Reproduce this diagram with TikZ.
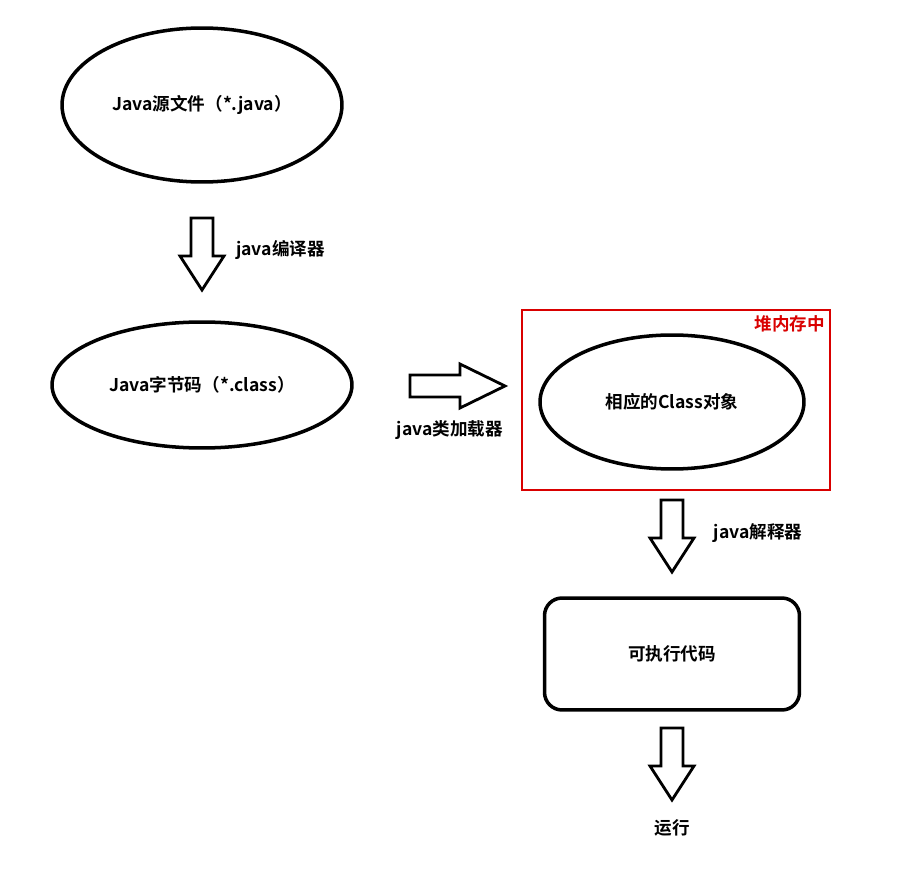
\documentclass[tikz,border=0pt]{standalone}
\usepackage{fontspec}
\setmainfont{Noto Sans CJK SC}[BoldFont={* Bold}]
\usetikzlibrary{shapes.geometric}

\tikzset{
  oval/.style={draw, ellipse, line width=2pt},
  bigarrow/.style={draw, line width=1.6pt, line join=miter},
  lbl/.style={font=\bfseries\fontsize{10}{12}\selectfont}
}
% flecha de bloque hacia abajo: (x, y superior)
\newcommand{\downblock}[2]{\draw[bigarrow] (#1-11,#2) -- (#1+11,#2) -- (#1+11,#2+38) -- (#1+22,#2+38) -- (#1,#2+72) -- (#1-22,#2+38) -- (#1-11,#2+38) -- cycle;}

\begin{document}
\begin{tikzpicture}[x=0.02cm, y=-0.02cm, every node/.append style={font=\bfseries\fontsize{10}{12}\selectfont}]
  \useasboundingbox (0,0) rectangle (924,885);
  % Nodos
  \node[oval, minimum width=5.6cm, minimum height=3.08cm] (src) at (202,105) {Java源文件（*.java）};
  \node[oval, minimum width=6cm, minimum height=2.52cm] (byte) at (202,385) {Java字节码（*.class）};
  \node[draw=red!85!black, line width=1.2pt, minimum width=6.16cm, minimum height=3.6cm] (heap) at (676,400) {};
  \node[lbl, text=red!85!black, anchor=north east] (heaplbl) at (heap.north east) {堆内存中};
  \node[oval, minimum width=5.28cm, minimum height=2.68cm] (obj) at (672,402) {相应的Class对象};
  \node[draw, rounded corners=10pt, line width=2pt, minimum width=5.1cm, minimum height=2.24cm] (exe) at (672,654) {可执行代码};

  % Flechas
  \downblock{202}{218}
  \node[lbl, right=0pt] (l1) at (230,250) {java编译器};
  \draw[bigarrow] (410,375) -- (460,375) -- (460,364) -- (505,386) -- (460,408) -- (460,397) -- (410,397) -- cycle;
  \node[lbl] (l2) at (450,430) {java类加载器};
  \downblock{672}{500}
  \node[lbl] (l3) at (758,533) {java解释器};
  \downblock{672}{728}
  \node[lbl] (run) at (672,828) {运行};
\end{tikzpicture}
\end{document}
